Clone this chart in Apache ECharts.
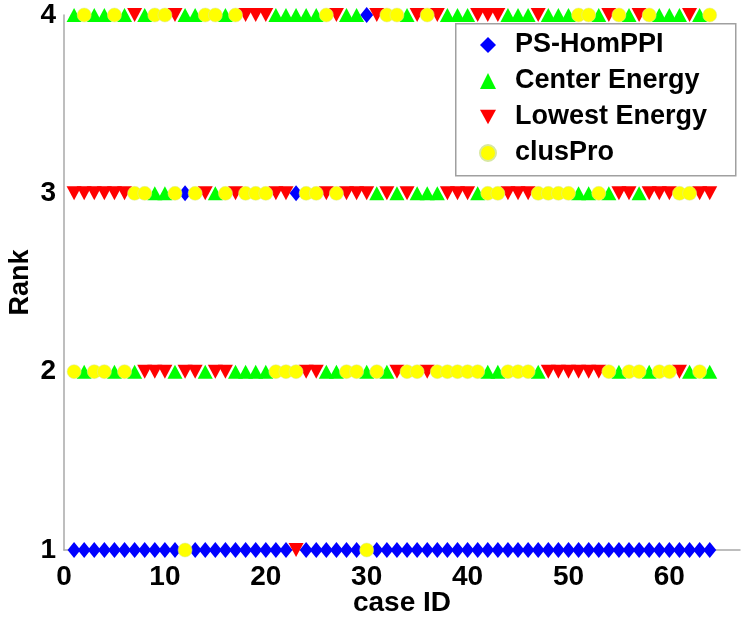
<!DOCTYPE html>
<html>
<head>
<meta charset="utf-8">
<script src="https://cdn.jsdelivr.net/npm/echarts@6/dist/echarts.min.js"></script>
<style>
html,body{margin:0;padding:0;background:#fff;}
#chart{width:750px;height:622px;}
</style>
</head>
<body>
<div id="chart"></div>
<script>
const caseIds = [1,2,3,4,5,6,7,8,9,10,11,12,13,14,15,16,17,18,19,20,21,22,23,24,25,26,27,28,29,30,31,32,33,34,35,36,37,38,39,40,41,42,43,44,45,46,47,48,49,50,51,52,53,54,55,56,57,58,59,60,61,62,63,64];
const seriesNames = ['PS-HomPPI', 'Center Energy', 'Lowest Energy', 'clusPro'];
const psHomPPI = [1,1,1,1,1,1,1,1,1,1, 1,3,1,1,1,1,1,1,1,1, 1,1,3,1,1,1,1,1,1,4, 1,1,1,1,1,1,1,1,1,1, 1,1,1,1,1,1,1,1,1,1, 1,1,1,1,1,1,1,1,1,1, 1,1,1,1];
const centerEnergy = [4,2,4,4,2,4,2,4,3,3, 2,4,4,2,3,4,2,2,2,2, 4,4,4,4,4,2,2,4,4,2, 3,2,3,4,3,3,3,4,4,4, 3,2,2,4,4,4,2,4,4,4, 3,3,4,3,2,4,3,2,4,4, 4,2,4,2];
const lowestEnergy = [3,3,3,3,3,3,4,2,2,2, 4,2,2,3,2,2,3,4,4,4, 3,3,1,2,2,3,4,3,3,3, 4,3,2,3,4,2,4,3,3,3, 4,4,4,3,3,3,4,2,2,2, 2,2,2,4,3,3,4,3,3,3, 2,4,3,3];
const clusPro = [2,4,2,2,4,2,3,3,4,4, 3,1,3,4,4,3,4,3,3,3, 2,2,2,3,3,4,3,2,2,1, 2,4,4,2,2,4,2,2,2,2, 2,3,3,2,2,2,3,3,3,3, 4,4,3,2,4,2,2,4,2,2, 3,3,2,4];
const xTicks = [0,10,20,30,40,50,60];
const yTicks = [1,2,3,4];

const font = '"Liberation Sans", Arial, sans-serif';
const pts = arr => caseIds.map((c, i) => [c, arr[i]]);
const downTri = 'path://M0,0 L10,0 L5,9 Z';

const chart = echarts.init(document.getElementById('chart'), null, {renderer: 'canvas'});
chart.setOption({
  animation: false,
  backgroundColor: '#fff',
  grid: {left: 64, top: 15, width: 676, height: 535, containLabel: false, outerBoundsMode: 'none'},
  xAxis: {
    type: 'value', min: 0, max: 67, interval: 10,
    name: 'case ID', nameLocation: 'middle', nameGap: 39, nameMoveOverlap: false,
    nameTextStyle: {fontFamily: font, fontWeight: 'bold', fontSize: 28, color: '#000'},
    axisLine: {show: true, onZero: false, lineStyle: {color: '#a8a8a8', width: 1.5}},
    axisTick: {show: false},
    splitLine: {show: false},
    axisLabel: {
      fontFamily: font, fontWeight: 'bold', fontSize: 28, color: '#000', margin: 13,
      showMaxLabel: false,
      formatter: v => xTicks.indexOf(v) >= 0 ? String(v) : ''
    }
  },
  yAxis: {
    type: 'value', min: 1, max: 4, interval: 1,
    name: 'Rank', nameLocation: 'middle', nameGap: 30, nameRotate: 90, nameMoveOverlap: false,
    nameTextStyle: {fontFamily: font, fontWeight: 'bold', fontSize: 27, color: '#000'},
    axisLine: {show: true, lineStyle: {color: '#a8a8a8', width: 1.5}},
    axisTick: {show: false},
    splitLine: {show: false},
    axisLabel: {
      fontFamily: font, fontWeight: 'bold', fontSize: 28, color: '#000', margin: 8,
      formatter: v => yTicks.indexOf(v) >= 0 ? String(v) : ''
    }
  },
  graphic: [{
    type: 'rect', left: 455, top: 23, z: 5,
    shape: {width: 280, height: 152},
    style: {fill: '#fff', stroke: '#a0a0a0', lineWidth: 1.5}
  }],
  legend: {
    orient: 'vertical', left: 479, top: 31, z: 6,
    itemWidth: 16, itemHeight: 16, itemGap: 8,
    padding: 0,
    data: seriesNames,
    textStyle: {fontFamily: font, fontWeight: 'bold', fontSize: 27, color: '#000', lineHeight: 28, padding: [0,0,0,14]}
  },
  series: [
    {name: seriesNames[0], type: 'scatter', data: pts(psHomPPI), symbol: 'diamond', symbolSize: [13, 16],
     itemStyle: {color: '#0000ff', opacity: 1}},
    {name: seriesNames[1], type: 'scatter', data: pts(centerEnergy), symbol: 'triangle', symbolSize: [15, 14],
     itemStyle: {color: '#00ff00', opacity: 1}},
    {name: seriesNames[2], type: 'scatter', data: pts(lowestEnergy), symbol: downTri, symbolKeepAspect: false, symbolSize: [15, 14],
     itemStyle: {color: '#ff0000', opacity: 1}},
    {name: seriesNames[3], type: 'scatter', data: pts(clusPro), symbol: 'circle', symbolSize: 14,
     itemStyle: {color: '#ffff00', opacity: 1, borderColor: '#d8e8a0', borderWidth: 0.5}}
  ]
});
</script>
</body>
</html>
